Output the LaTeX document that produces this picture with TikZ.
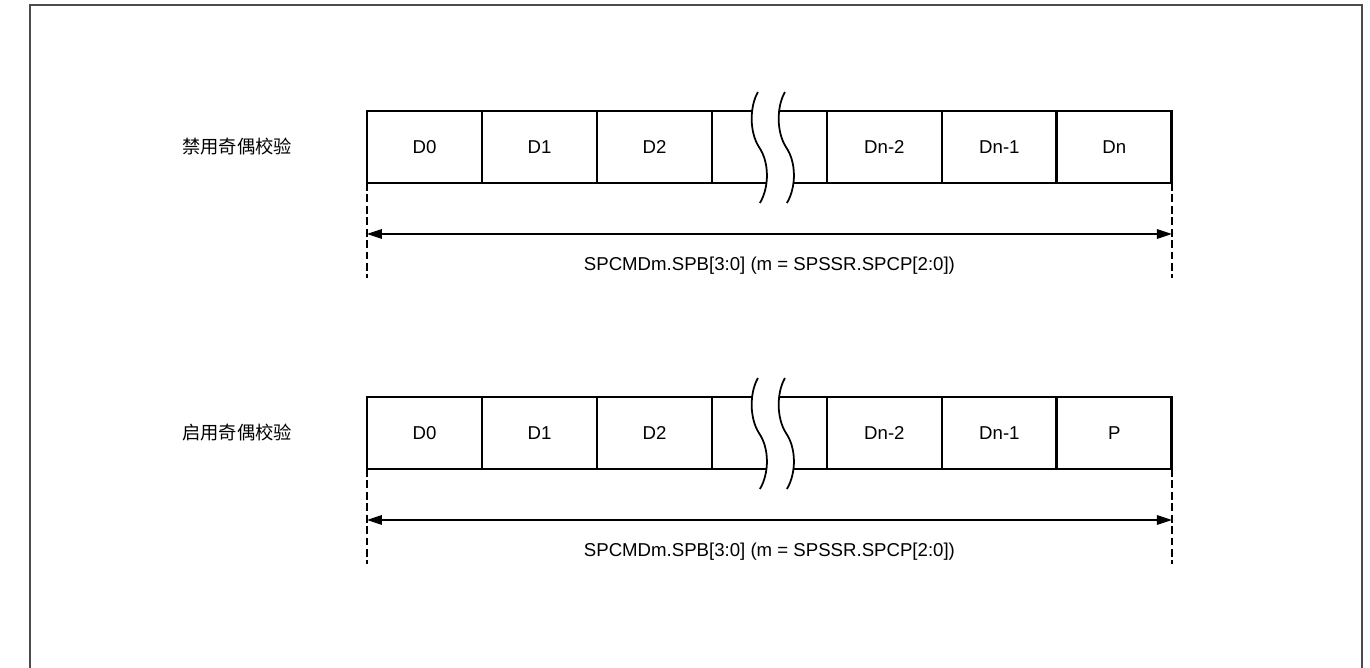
\documentclass[tikz,border=0pt]{standalone}
\usepackage{fontspec}
\setmainfont{Liberation Sans}
\newfontfamily\cjk{Noto Sans CJK SC}
\usetikzlibrary{arrows.meta,positioning}

\begin{document}
\begin{tikzpicture}[
x=0.02cm, y=-0.02cm,
node distance=0pt,
cell/.style={draw, line width=1.6pt, outer sep=0pt, inner sep=0pt, minimum width=2.3cm, minimum height=1.44cm, font=\fontsize{10.6}{12}\selectfont},
gapcell/.style={outer sep=0pt, inner sep=0pt, minimum width=2.3cm, minimum height=1.44cm},
rowlabel/.style={font=\fontsize{10.4}{12}\selectfont\cjk},
cellline/.style={line width=1.6pt},
wave/.style={line width=1pt},
guide/.style={line width=0.8pt, dash pattern=on 4.5pt off 2pt},
dimarrow/.style={{Triangle[length=8.5pt,width=5.5pt]}-{Triangle[length=8.5pt,width=5.5pt]}, line width=0.7pt},
dimtext/.style={font=\fontsize{10.6}{12}\selectfont}
]
\useasboundingbox (0,0) rectangle (1370,668);
\draw[line width=1pt, black!70] (30,700) -- (30,5) -- (1362,5) -- (1362,700);

% parity disabled
\node[rowlabel] (labA) at (237,147) {禁用奇偶校验};
\node[cell] (a0) at (424.5,147) {D0};
\node[cell, right=of a0] (a1) {D1};
\node[cell, right=of a1] (a2) {D2};
\node[gapcell, right=of a2] (a3) {};
\node[cell, right=of a3] (a4) {Dn-2};
\node[cell, right=of a4] (a5) {Dn-1};
\node[cell, right=of a5] (a6) {Dn};

% parity enabled
\node[rowlabel] (labB) at (237,433) {启用奇偶校验};
\node[cell] (b0) at (424.5,433) {D0};
\node[cell, right=of b0] (b1) {D1};
\node[cell, right=of b1] (b2) {D2};
\node[gapcell, right=of b2] (b3) {};
\node[cell, right=of b3] (b4) {Dn-2};
\node[cell, right=of b4] (b5) {Dn-1};
\node[cell, right=of b5] (b6) {P};

% break marks
\foreach \g in {a3,b3} {
  \begin{scope}[shift={(\g.center)}]
    \draw[cellline] (-57.5,-36) -- (-16.5,-36);
    \draw[cellline] (10.5,-36) -- (57.5,-36);
    \draw[cellline] (-57.5,36) -- (-3.5,36);
    \draw[cellline] (23.5,36) -- (57.5,36);
    \foreach \dx in {0,27}
      \draw[wave, xshift=\dx*0.02cm] (-11.5,-55) .. controls (-20,-40) and (-20,-15) .. (-10.5,0)
        .. controls (0,15) and (0,40) .. (-9.5,56);
  \end{scope}
}

% dimension lines
\foreach \r in {a,b} {
  \coordinate[below=1.9cm of \r0.south west] (\r GL);
  \coordinate[below=1.9cm of \r6.south east] (\r GR);
  \coordinate[below=1.02cm of \r0.south west] (\r AL);
  \coordinate[below=1.02cm of \r6.south east] (\r AR);
  \draw[guide] (\r0.south west) -- (\r GL);
  \draw[guide] (\r6.south east) -- (\r GR);
  \draw[dimarrow] (\r AL) -- node[dimtext, midway, yshift=-0.64cm] {SPCMDm.SPB[3:0] (m = SPSSR.SPCP[2:0])} (\r AR);
}
\end{tikzpicture}
\end{document}
